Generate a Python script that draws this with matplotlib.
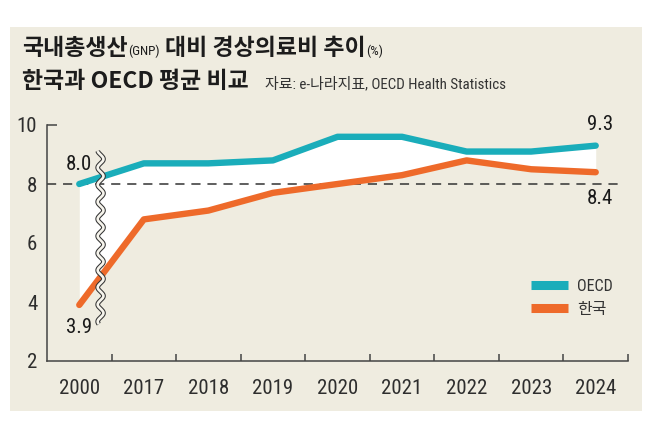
import numpy as np
import matplotlib
matplotlib.use("Agg")
import matplotlib.pyplot as plt
from matplotlib import font_manager as fm
from matplotlib.patches import Rectangle

years = ["2000", "2017", "2018", "2019", "2020", "2021", "2022", "2023", "2024"]
oecd = [8.0, 8.7, 8.7, 8.8, 9.6, 9.6, 9.1, 9.1, 9.3]
korea = [3.9, 6.8, 7.1, 7.7, 8.0, 8.3, 8.8, 8.5, 8.4]
yticks = [2, 4, 6, 8, 10]
series_names = ["OECD", "한국"]

# pick a condensed sans for numbers if one is installed
NARROW, STRETCH, NUMSIZE = "Liberation Sans", "normal", 13.5
entries = fm.fontManager.ttflist
names = {f.name for f in entries}
for cand in ["Liberation Sans Narrow", "Roboto Condensed", "Open Sans Condensed"]:
    if cand in names:
        NARROW, NUMSIZE = cand, 15
        break
else:
    for f in entries:
        if f.name in ("DejaVu Sans", "Roboto", "Open Sans", "Noto Sans") and \
                str(f.stretch) in ("condensed", "semi-condensed", "600", "700"):
            NARROW, STRETCH, NUMSIZE = f.name, "condensed", 14.5
            break
KR = "Noto Sans CJK KR"
num_fam = [NARROW, KR]

BG = "#EFECE0"
TEAL = "#1AADBA"
ORANGE = "#EE6A2A"
INK = "#2e2e2e"

W, H = 650, 434
fig = plt.figure(figsize=(6.5, 4.34), dpi=100)
fig.patch.set_facecolor("white")
fig.patches.append(Rectangle((10 / W, 1 - 411 / H), 632 / W, 384 / H,
                             transform=fig.transFigure, facecolor=BG,
                             edgecolor="none", zorder=-10))

ax = fig.add_axes([47 / W, 1 - 361 / H, 581 / W, 236 / H])
ax.set_facecolor("none")
x = np.arange(len(years))
ax.set_xlim(-0.5, len(years) - 0.5)
ax.set_ylim(2, 10)

ax.fill_between(x, korea, oecd, color="white", lw=0, zorder=1)
ax.axhline(8, xmin=0, xmax=(len(years) - 0.62 + 0.5) / len(years), color="#333333",
           lw=1.1, ls=(0, (6, 4.5)), zorder=2)
ax.plot(x, oecd, color=TEAL, lw=4.6, solid_capstyle="round", solid_joinstyle="round",
        zorder=3, label=series_names[0])
ax.plot(x, korea, color=ORANGE, lw=4.6, solid_capstyle="round", solid_joinstyle="round",
        zorder=3, label=series_names[1])

# axis break symbol (decoration)
yy = np.linspace(3.25, 9.12, 400)
xx = 0.33 + 0.045 * np.sin(2 * np.pi * yy / 0.58)
ax.plot(xx, yy, color="#333333", lw=3.4, zorder=4, solid_capstyle="butt")
ax.plot(xx, yy, color="#F6F4EC", lw=1.9, zorder=5, solid_capstyle="butt")

num_kw = dict(family=num_fam, fontstretch=STRETCH)

# spines & ticks
for s in ["top", "right"]:
    ax.spines[s].set_visible(False)
for s in ["left", "bottom"]:
    ax.spines[s].set_color("#444444")
    ax.spines[s].set_linewidth(1.1)
ax.set_yticks(yticks)
ax.set_yticklabels([str(v) for v in yticks], fontsize=NUMSIZE, color=INK, **num_kw)
ax.tick_params(axis="y", length=0, pad=7)
ax.hlines(10, -0.5, -0.34, color="#444444", lw=1.1, clip_on=False)
ax.set_xticks(x)
ax.set_xticklabels(years, fontsize=NUMSIZE, color=INK, **num_kw)
ax.tick_params(axis="x", which="major", length=0, pad=13)
ax.set_xticks(x + 0.5, minor=True)
ax.tick_params(axis="x", which="minor", direction="in", length=5, width=1.1, color="#444444")

# value labels
lab_kw = dict(ha="center", va="center", fontsize=NUMSIZE, color="#1a1a1a", **num_kw)
ax.text(0, oecd[0] + 0.67, f"{oecd[0]:.1f}", **lab_kw)
ax.text(0, korea[0] - 0.78, f"{korea[0]:.1f}", **lab_kw)
ax.text(x[-1] + 0.07, oecd[-1] + 0.7, f"{oecd[-1]:.1f}", clip_on=False, **lab_kw)
ax.text(x[-1] + 0.07, korea[-1] - 0.9, f"{korea[-1]:.1f}", **lab_kw)

leg = ax.legend(loc="upper left", bbox_to_anchor=((531 - 47) / 581 - 0.014, 1 - (271 - 125) / 236),
                frameon=False, handlelength=2.3, handletextpad=0.6, labelspacing=0.5,
                prop={"family": num_fam, "size": 11.5, "stretch": STRETCH}, borderpad=0)
for t in leg.get_texts():
    t.set_color("#333333")
for l in leg.get_lines():
    l.set_linewidth(6.5)
    l.set_solid_capstyle("butt")

# title pieces
fig.canvas.draw()
rend = fig.canvas.get_renderer()

def place(pieces, x0, ybase):
    xp = x0
    for txt, size, weight, fam, dx in pieces:
        xp += dx
        t = fig.text(xp / W, 1 - ybase / H, txt, fontsize=size, fontweight=weight,
                     family=fam, fontstretch=STRETCH, color="#1c1c1c",
                     va="baseline", ha="left")
        bb = t.get_window_extent(renderer=rend)
        xp = bb.x1

TF = [KR]
SF = [NARROW, KR]
place([("국내총생산", 16.5, "bold", TF, 0),
       ("(GNP)", 9.5, "normal", SF, 0.5),
       ("대비 경상의료비 추이", 16.5, "bold", TF, 5),
       ("(%)", 9.5, "normal", SF, 0.5)], 22, 55)
place([("한국과 OECD 평균 비교", 16.5, "bold", TF, 0)], 22, 88)
fig.text(265 / W, 1 - 88.5 / H, "자료: e-나라지표, OECD Health Statistics", fontsize=10.8,
         family=[NARROW, KR], fontstretch=STRETCH, color="#333333",
         va="baseline", ha="left")

fig.savefig("out.png", dpi=100, facecolor="white")
